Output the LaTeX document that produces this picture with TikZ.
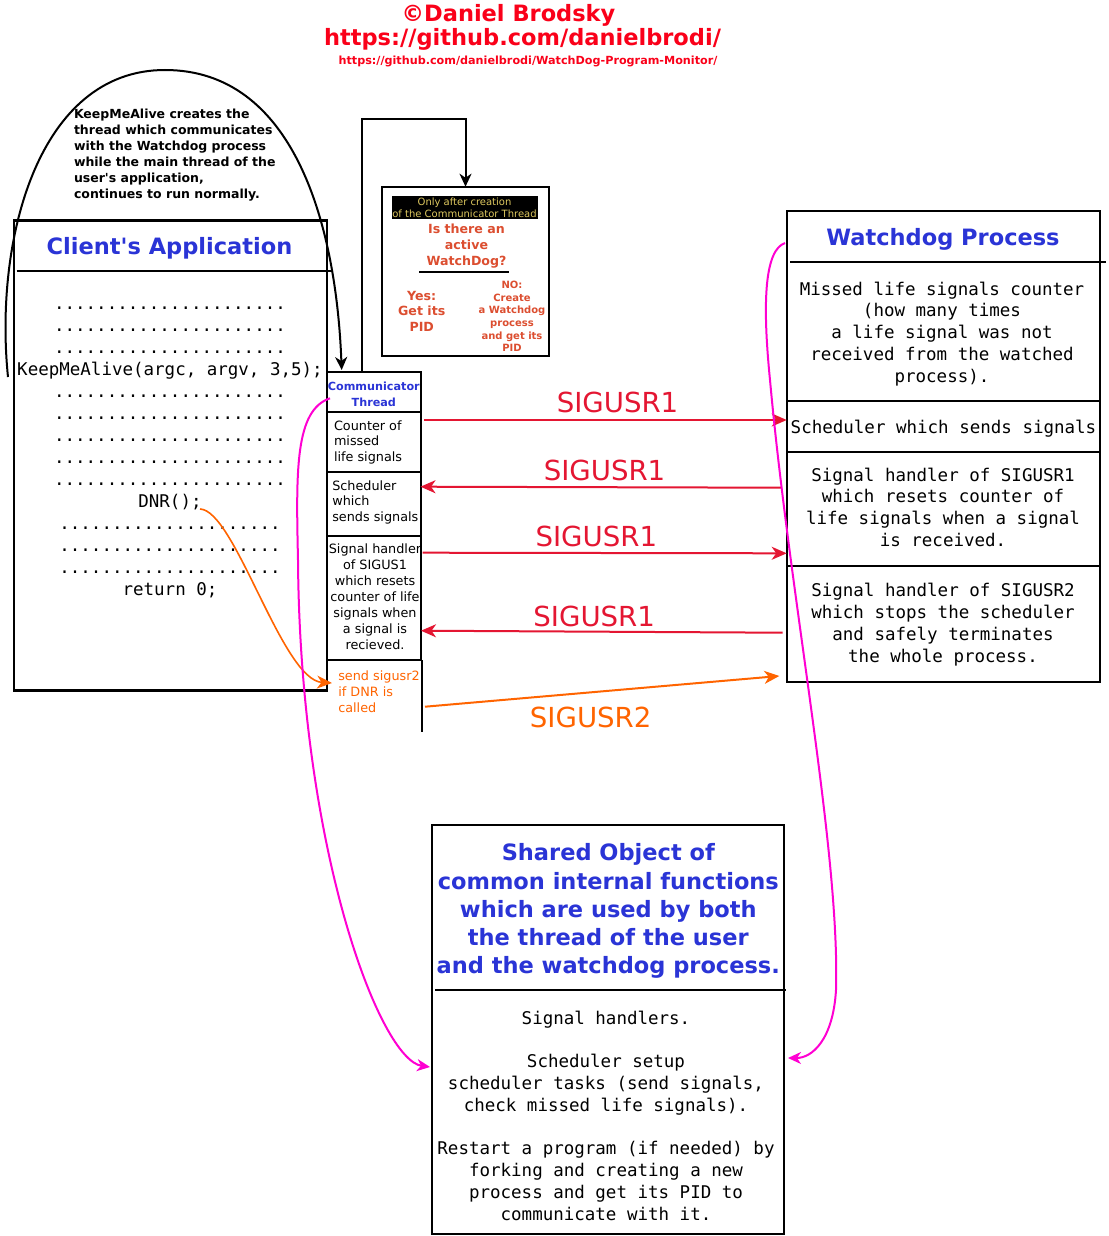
\documentclass[tikz,border=0pt]{standalone}
\usepackage{fontspec}
\setmainfont{DejaVu Sans}
\setsansfont{DejaVu Sans}
\setmonofont{DejaVu Sans Mono}
\usetikzlibrary{arrows.meta,calc}
\definecolor{hdrred}{RGB}{250,0,25}
\definecolor{titleblue}{RGB}{42,52,214}
\definecolor{sigred}{RGB}{228,22,50}
\definecolor{sigorange}{RGB}{255,100,0}
\definecolor{pinkline}{RGB}{255,0,210}
\definecolor{khaki}{RGB}{222,200,95}
\definecolor{qred}{RGB}{220,78,48}
\newcommand\myfs[2]{\fontsize{#1}{#2}\selectfont}
\begin{document}
\begin{tikzpicture}[x=1pt,y=-1pt,
  box/.style={draw=black, line width=2.2pt, inner sep=0pt, outer sep=0pt, anchor=north west},
  sepline/.style={draw=black, line width=2pt},
  txt/.style={inner sep=0pt, outer sep=0pt, anchor=base},
  txtl/.style={inner sep=0pt, outer sep=0pt, anchor=base west, align=left},
  mono/.style={font=\ttfamily\myfs{17.5}{21.8}},
  small/.style={font=\myfs{12.8}{15.9}},
  btitle/.style={font=\bfseries\myfs{22.5}{28.3}, text=titleblue},
  sig/.style={font=\myfs{27.6}{30}},
  sigarrow/.style={draw=sigred, line width=2pt, -{Stealth[length=15pt,width=13pt,inset=4.5pt]}},
  orarrow/.style={draw=sigorange, line width=2pt, -{Stealth[length=15pt,width=13pt,inset=4.5pt]}},
  pinkarrow/.style={draw=pinkline, line width=2pt, -{Stealth[length=13pt,width=12pt,inset=4pt]}},
  blackarrow/.style={draw=black, line width=2pt, -{Stealth[length=13pt,width=12pt,inset=4pt]}}
]
\useasboundingbox[fill=white] (0,0) rectangle (1108,1236);

% header
\node[txt, font=\bfseries\myfs{22.5}{24}, text=hdrred] (hdr1) at (508.5,21.5) {©Daniel Brodsky};
\node[txt, font=\bfseries\myfs{22.5}{24}, text=hdrred] (hdr2) at (522.5,46) {https://github.com/danielbrodi/};
\node[txt, font=\bfseries\myfs{11.2}{12}, text=hdrred] (hdr3) at (528,65) {https://github.com/danielbrodi/WatchDog-Program-Monitor/};

% annotation (anchor = last baseline)
\node[txtl, font=\bfseries\myfs{12.5}{16}] (note) at (74,198.5) {KeepMeAlive creates the\\thread which communicates\\with the Watchdog process\\while the main thread of the\\user\textquotesingle s application,\\continues to run normally.};

% client application
\node[box, minimum width=313pt, minimum height=470pt] (client) at (14,220.5) {};
\draw[sepline] (16.5,270.5) -- (333,270.5);
\node[txt, btitle] (clienttitle) at (169.5,254.5) {Client\textquotesingle s Application};
\node[txt, font=\ttfamily\myfs{17.5}{22}, align=center] (code) at (170,595.5) {......................\\......................\\......................\\KeepMeAlive(argc, argv, 3,5);\\......................\\......................\\......................\\......................\\......................\\DNR();\\.....................\\.....................\\.....................\\return 0;};

% communicator thread column
\node[box, minimum width=93.7pt, minimum height=288.3pt] (comm) at (327,371.7) {};
\draw[sepline] (327,411.7) -- (420.7,411.7);
\draw[sepline] (327,471.7) -- (420.7,471.7);
\draw[sepline] (327,535.7) -- (420.7,535.7);
\draw[sepline] (422,660) -- (422,732);
\node[txt, font=\bfseries\myfs{11.2}{15.3}, text=titleblue, align=center] (commtitle) at (373.8,406) {Communicator\\Thread};
\node[txtl, small] (counter) at (334,461.8) {Counter of\\missed\\life signals};
\node[txtl, small] (sched) at (332.3,521.8) {Scheduler\\which\\sends signals};
\node[txt, font=\myfs{12.8}{16}, align=center] (handler) at (375,649.3) {Signal handler\\of SIGUS1\\which resets\\counter of life\\signals when\\a signal is\\recieved.};
\node[txtl, small, text=sigorange] (sendsig) at (338.3,712.5) {send sigusr2\\if DNR is\\called};

% check box
\node[box, minimum width=167.6pt, minimum height=169pt] (check) at (381.7,186.7) {};
\node[fill=black, inner sep=0pt, outer sep=0pt, anchor=north west, minimum width=146.6pt, minimum height=23.3pt] (bar) at (391.7,196) {};
\node[txt, font=\myfs{10}{12.3}, text=khaki, align=center] (only) at (464.5,217.3) {Only after creation\\of the Communicator Thread};
\node[txt, font=\bfseries\myfs{12.6}{15.9}, text=qred, align=center] (question) at (466.5,265.1) {Is there an\\active\\WatchDog?};
\draw[sepline] (419.3,271.8) -- (509.3,271.8);
\node[txt, font=\bfseries\myfs{12.6}{15.5}, text=qred, align=center] (yes) at (421.7,331) {Yes:\\Get its\\PID};
\node[txt, font=\bfseries\myfs{10}{12.7}, text=qred, align=center] (no) at (512,351.8) {NO:\\Create\\a Watchdog\\process\\and get its\\PID};

% loop arrow from thread to check box
\coordinate (loopstart) at (361.7,371.7);
\draw[blackarrow] (loopstart) -- ++(0,-252.7) -| (check.north);

% big arc from KeepMeAlive to thread
\coordinate (arcstart) at (8,377);
\coordinate (arcend) at (341.7,370);
\draw[blackarrow] (arcstart) .. controls (-6,240) and (38,70) .. (165,70) .. controls (292,70) and (336,220) .. (arcend);

% watchdog process
\node[box, minimum width=313.3pt, minimum height=470.7pt] (wd) at (786.7,211) {};
\draw[sepline] (790,261.5) -- (1106,261.5);
\draw[sepline] (786.7,401) -- (1100,401);
\draw[sepline] (786.7,451.7) -- (1100,451.7);
\draw[sepline] (786.7,566) -- (1100,566);
\node[txt, btitle] (wdtitle) at (943,245) {Watchdog Process};
\node[txt, mono, align=center] (wdmissed) at (942,382.2) {Missed life signals counter\\(how many times\\a life signal was not\\received from the watched\\process).};
\node[txt, mono] (wdsched) at (943.5,433.3) {Scheduler which sends signals};
\node[txt, mono, align=center] (wdh1) at (943,546.4) {Signal handler of SIGUSR1\\which resets counter of\\life signals when a signal\\is received.};
\node[txt, mono, align=center] (wdh2) at (943,662.1) {Signal handler of SIGUSR2\\which stops the scheduler\\and safely terminates\\the whole process.};

% shared object
\node[box, minimum width=352.3pt, minimum height=409.3pt] (shared) at (431.7,825) {};
\draw[sepline] (435,990) -- (786,990);
\node[txt, btitle, align=center] (sharedtitle) at (608.3,973.9) {Shared Object of\\common internal functions\\which are used by both\\the thread of the user\\and the watchdog process.};
\node[txt, mono, align=center] (sharedbody) at (606,1220.2) {Signal handlers.\\[21.8pt]Scheduler setup\\scheduler tasks (send signals,\\check missed life signals).\\[21.8pt]Restart a program (if needed) by\\forking and creating a new\\process and get its PID to\\communicate with it.};

% signals
\coordinate (s1a) at (424,420);   \coordinate (s1b) at (786.7,420);
\coordinate (s2a) at (781.7,487.7); \coordinate (s2b) at (420.5,486.7);
\coordinate (s3a) at (422.7,552.7); \coordinate (s3b) at (786.7,553.3);
\coordinate (s4a) at (782.7,632.7); \coordinate (s4b) at (421,630.7);
\coordinate (s5a) at (425,706.7);   \coordinate (s5b) at (779.3,676);
\draw[sigarrow] (s1a) -- (s1b);
\draw[sigarrow] (s2a) -- (s2b);
\draw[sigarrow] (s3a) -- (s3b);
\draw[sigarrow] (s4a) -- (s4b);
\draw[orarrow] (s5a) -- (s5b);
\node[txt, sig, text=sigred] (l1) at (617.5,412.3) {SIGUSR1};
\node[txt, sig, text=sigred] (l2) at (604.5,480) {SIGUSR1};
\node[txt, sig, text=sigred] (l3) at (596.3,546.7) {SIGUSR1};
\node[txt, sig, text=sigred] (l4) at (594.2,626) {SIGUSR1};
\node[txt, sig, text=sigorange] (l5) at (590.7,727.7) {SIGUSR2};

% DNR to send sigusr2
\coordinate (dnr) at (200,509);
\coordinate (dnrend) at (332,683);
\draw[orarrow, line width=1.6pt] (dnr) .. controls (235,510) and (282,680) .. (dnrend);

% pink links to shared object
\coordinate (p1a) at (330,398.3);
\coordinate (p1b) at (430,1067);
\draw[pinkarrow] (p1a) .. controls (295,410) and (296,470) .. (298,560) .. controls (300,850) and (380,1060) .. (p1b);
\coordinate (p2a) at (785,243);
\coordinate (p2b) at (788,1058);
\draw[pinkarrow] (p2a) .. controls (765,250) and (762,300) .. (770,380) .. controls (790,600) and (840,850) .. (836,990) .. controls (833,1040) and (812,1058) .. (p2b);
\end{tikzpicture}
\end{document}
